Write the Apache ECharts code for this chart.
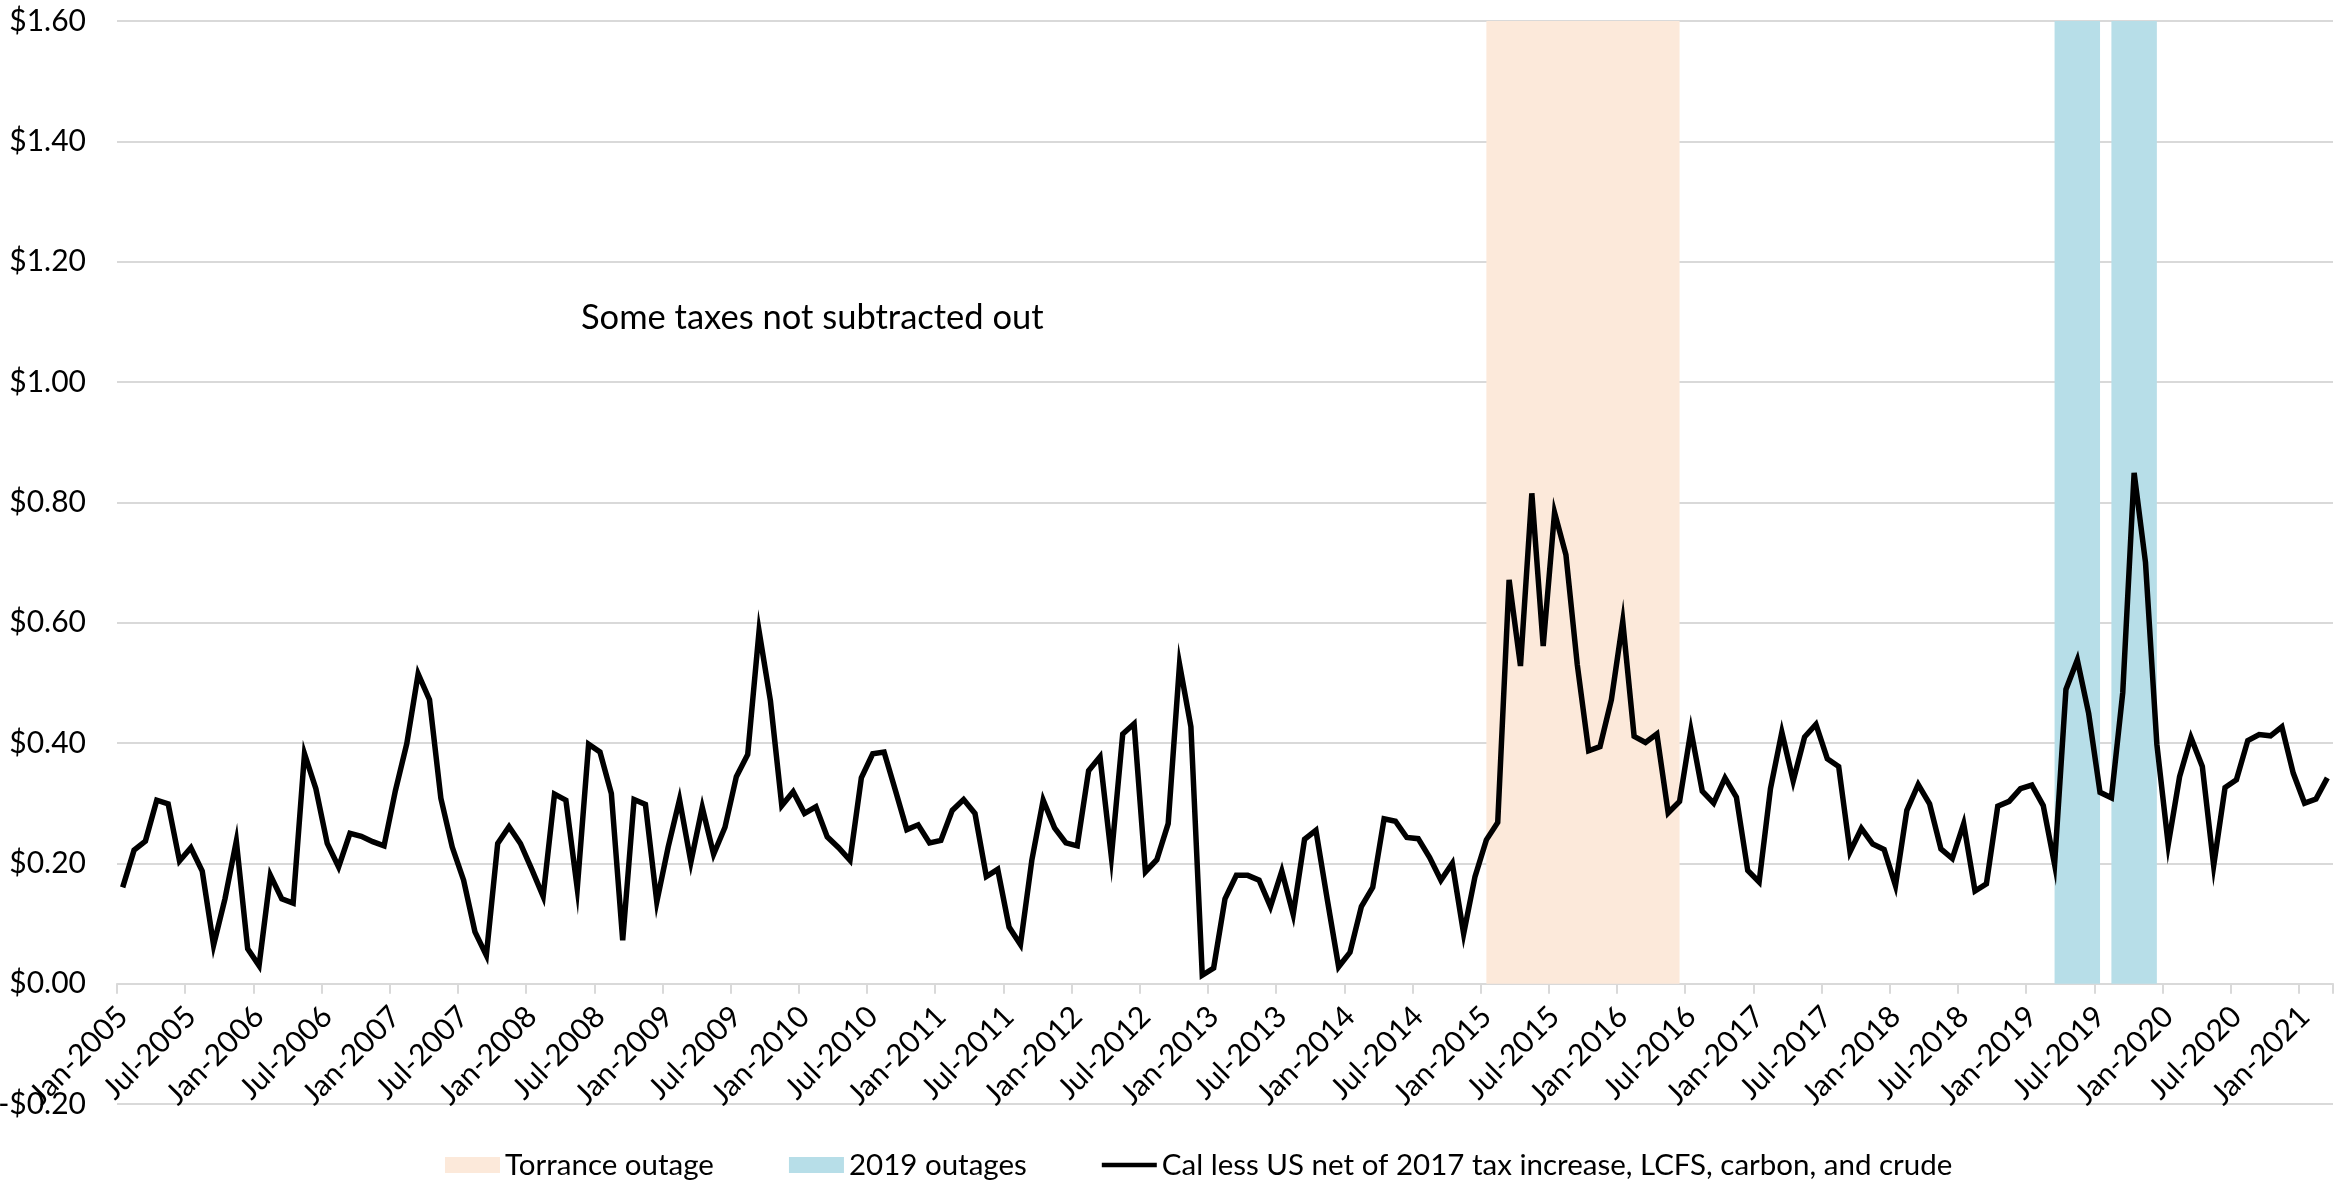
<!DOCTYPE html>
<html>
<head>
<meta charset="utf-8">
<script src="https://cdn.jsdelivr.net/npm/echarts@6/dist/echarts.min.js"></script>
<style>
html,body{margin:0;padding:0;background:#fff;}
#chart{width:2348px;height:1181px;}
</style>
</head>
<body>
<div id="chart"></div>
<script>
// ---- data ----
const monthNames = ['Jan','Feb','Mar','Apr','May','Jun','Jul','Aug','Sep','Oct','Nov','Dec'];
const startYear = 2005;
const monthCount = 195; // Jan-2005 .. Mar-2021
const categories = [];
for (let i = 0; i < monthCount; i++) {
  categories.push(monthNames[i % 12] + '-' + (startYear + Math.floor(i / 12)));
}

const spreadValues = [
  0.160,0.222,0.237,0.305,0.299,0.204,0.226,0.187,0.064,0.141,0.237,0.058,
  0.030,0.180,0.141,0.134,0.382,0.324,0.233,0.194,0.250,0.245,0.236,0.229,
  0.321,0.399,0.515,0.472,0.308,0.227,0.172,0.086,0.047,0.233,0.261,0.233,
  0.190,0.145,0.315,0.305,0.158,0.398,0.385,0.316,0.072,0.306,0.298,0.136,
  0.227,0.306,0.202,0.293,0.215,0.260,0.344,0.381,0.586,0.470,0.296,0.319,
  0.283,0.294,0.244,0.226,0.205,0.342,0.382,0.385,0.321,0.256,0.264,0.234,
  0.238,0.288,0.306,0.283,0.178,0.190,0.094,0.065,0.205,0.305,0.259,0.234,
  0.229,0.354,0.377,0.211,0.415,0.432,0.186,0.206,0.266,0.531,0.427,0.014,
  0.026,0.141,0.180,0.180,0.172,0.128,0.187,0.115,0.240,0.255,0.140,0.028,
  0.052,0.128,0.160,0.274,0.270,0.243,0.241,0.210,0.172,0.200,0.083,0.178,
  0.239,0.268,0.671,0.528,0.815,0.561,0.783,0.713,0.530,0.387,0.394,0.472,
  0.602,0.411,0.401,0.415,0.284,0.303,0.421,0.320,0.300,0.342,0.310,0.188,
  0.169,0.324,0.418,0.337,0.410,0.431,0.374,0.361,0.219,0.258,0.232,0.223,
  0.163,0.288,0.331,0.299,0.224,0.208,0.266,0.154,0.166,0.295,0.303,0.324,
  0.330,0.296,0.198,0.489,0.538,0.449,0.318,0.309,0.484,0.849,0.700,0.398,
  0.231,0.344,0.409,0.361,0.196,0.326,0.339,0.404,0.414,0.412,0.427,0.350,
  0.300,0.307,0.342
];

const torranceOutage = [['Jan-2015', 'Jun-2016']];
const outages2019 = [['Mar-2019', 'Jul-2019'], ['Aug-2019', 'Dec-2019']];
const shadeTop = 1.6;

const seriesNames = ['Torrance outage', '2019 outages', 'Cal less US net of 2017 tax increase, LCFS, carbon, and crude'];
const annotationText = 'Some taxes not subtracted out';

const yMin = -0.2, yMax = 1.6, yStep = 0.2;

// ---- layout ----
const FONT = 'Lato';
const gridBox = { left: 117, right: 15, top: 21, bottom: 77 };
const chartH = 1181;
const gridH = chartH - gridBox.top - gridBox.bottom;
const zeroOffset = -gridH * (0 - yMin) / (yMax - yMin); // move x axis up to the $0 line

const chart = echarts.init(document.getElementById('chart'));

function areas(ranges) {
  return ranges.map(r => [{ xAxis: r[0], yAxis: 0 }, { xAxis: r[1], yAxis: shadeTop }]);
}

chart.setOption({
  animation: false,
  backgroundColor: '#ffffff',
  textStyle: { fontFamily: FONT },
  grid: Object.assign({ containLabel: false, outerBoundsMode: 'none' }, gridBox),
  legend: {
    left: 440,
    top: 1145,
    itemGap: 75,
    itemWidth: 55,
    itemHeight: 16,
    textStyle: { fontFamily: FONT, fontSize: 29.5, color: '#000' },
    data: [
      { name: seriesNames[0], icon: 'rect' },
      { name: seriesNames[1], icon: 'rect' },
      { name: seriesNames[2], icon: 'path://M0,0L0.01,0M0,5.5L60,5.5L60,10.5L0,10.5ZM0,16L0.01,16' }
    ]
  },
  xAxis: {
    type: 'category',
    data: categories,
    boundaryGap: true,
    position: 'bottom',
    offset: zeroOffset,
    axisLine: { onZero: false, lineStyle: { color: '#d9d9d9', width: 2 } },
    axisTick: { show: true, interval: 5, length: 10, lineStyle: { color: '#d9d9d9', width: 2 } },
    axisLabel: { interval: 5, rotate: 45, margin: 28, fontFamily: FONT, fontSize: 30, color: '#000' },
    splitLine: { show: false }
  },
  yAxis: {
    type: 'value',
    min: yMin,
    max: yMax,
    interval: yStep,
    axisLine: { show: false },
    axisTick: { show: false },
    splitLine: { show: true, lineStyle: { color: '#d9d9d9', width: 2 } },
    axisLabel: {
      margin: 31,
      fontFamily: FONT,
      fontSize: 30,
      color: '#000',
      formatter: v => (v < -1e-9 ? '-$' : '$') + Math.abs(v).toFixed(2)
    }
  },
  graphic: [{
    type: 'text',
    x: 581,
    y: 318,
    style: { text: annotationText, font: '34.5px Lato', fill: '#000', textVerticalAlign: 'middle' }
  }],
  series: [
    {
      name: seriesNames[0],
      type: 'line',
      data: [],
      z: 1,
      itemStyle: { color: '#FCE9DA' },
      markArea: { silent: true, itemStyle: { color: '#FCE9DA' }, data: areas(torranceOutage) }
    },
    {
      name: seriesNames[1],
      type: 'line',
      data: [],
      z: 1,
      itemStyle: { color: '#B7DEE8' },
      markArea: { silent: true, itemStyle: { color: '#B7DEE8' }, data: areas(outages2019) }
    },
    {
      name: seriesNames[2],
      type: 'line',
      data: spreadValues,
      z: 5,
      symbol: 'none',
      showSymbol: false,
      itemStyle: { color: '#000' },
      lineStyle: { color: '#000', width: 5.5, join: 'miter' }
    }
  ]
});
</script>
</body>
</html>
